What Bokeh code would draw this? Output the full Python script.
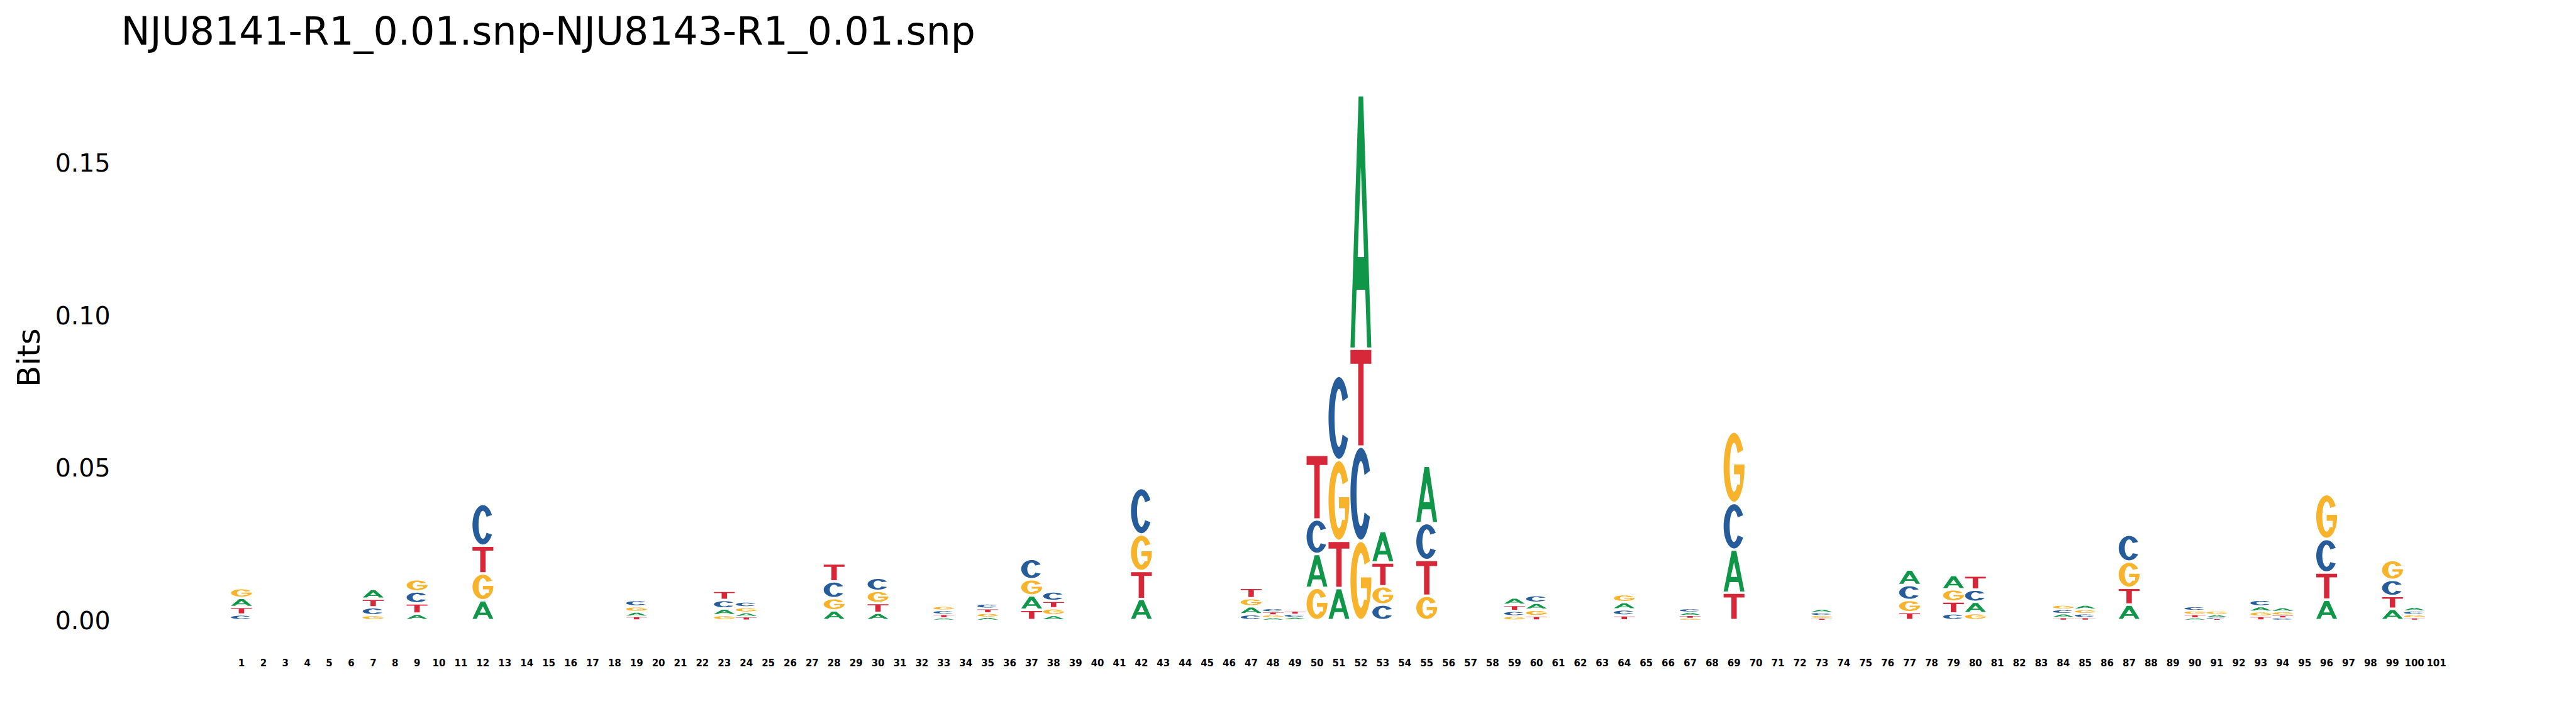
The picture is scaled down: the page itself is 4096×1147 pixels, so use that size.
import numpy as np
from bokeh.plotting import figure
from bokeh.layouts import column
from bokeh.models import Range1d, FixedTicker
from bokeh.embed import file_html
from bokeh.resources import INLINE

# ---------------- data ----------------
title_text = "NJU8141-R1_0.01.snp-NJU8143-R1_0.01.snp"
y_label = "Bits"
all_positions = list(range(1, 102))
y_ticks = [0.0, 0.05, 0.10, 0.15]
y_tick_labels = ["0.00", "0.05", "0.10", "0.15"]

# positions that carry letters (all other positions are empty)
logo_positions = [1, 7, 9, 12, 19, 23, 24, 28, 30, 33, 35, 37, 38, 42, 47, 48, 49, 50, 51, 52,
                  53, 55, 59, 60, 64, 67, 69, 73, 77, 79, 80, 84, 85, 87, 90, 91, 93, 94, 96, 99, 100]

A_bits = [0.0030, 0.0032, 0.0021, 0.0065, 0.0015, 0.0022, 0.0014, 0.0032, 0.0024, 0.0007,
          0.0009, 0.0047, 0.0016, 0.0069, 0.0026, 0.0008, 0.0007, 0.0111, 0.0105, 0.0831,
          0.0103, 0.0188, 0.0024, 0.0023, 0.0024, 0.0011, 0.0141, 0.0011, 0.0051, 0.0047,
          0.0037, 0.0013, 0.0015, 0.0051, 0.0007, 0.0009, 0.0017, 0.0013, 0.0067, 0.0037, 0.0013]
C_bits = [0.0018, 0.0026, 0.0039, 0.0137, 0.0021, 0.0028, 0.0019, 0.0055, 0.0043, 0.0013,
          0.0016, 0.0067, 0.0031, 0.0152, 0.0019, 0.0011, 0.0010, 0.0113, 0.0276, 0.0309,
          0.0051, 0.0121, 0.0017, 0.0025, 0.0020, 0.0012, 0.0153, 0.0010, 0.0049, 0.0022,
          0.0040, 0.0014, 0.0013, 0.0088, 0.0014, 0.0005, 0.0022, 0.0007, 0.0110, 0.0053, 0.0012]
G_bits = [0.0032, 0.0016, 0.0040, 0.0088, 0.0018, 0.0016, 0.0017, 0.0040, 0.0040, 0.0014,
          0.0014, 0.0053, 0.0023, 0.0120, 0.0027, 0.0009, 0.0002, 0.0106, 0.0265, 0.0260,
          0.0060, 0.0080, 0.0013, 0.0021, 0.0026, 0.0006, 0.0234, 0.0009, 0.0040, 0.0040,
          0.0023, 0.0015, 0.0014, 0.0086, 0.0013, 0.0012, 0.0016, 0.0012, 0.0147, 0.0065, 0.0011]
T_bits = [0.0025, 0.0028, 0.0034, 0.0091, 0.0012, 0.0030, 0.0011, 0.0059, 0.0032, 0.0012,
          0.0015, 0.0034, 0.0024, 0.0092, 0.0034, 0.0010, 0.0011, 0.0212, 0.0155, 0.0321,
          0.0078, 0.0117, 0.0020, 0.0013, 0.0015, 0.0009, 0.0090, 0.0006, 0.0026, 0.0039,
          0.0046, 0.0008, 0.0008, 0.0055, 0.0011, 0.0004, 0.0012, 0.0009, 0.0089, 0.0042, 0.0007]

letter_colors = {"A": "#109648", "C": "#255C99", "G": "#F7B32B", "T": "#D62839"}

# ---------------- letter outlines in a unit box ----------------
def _arc(rx, ry, a0, a1, n=60):
    t = np.radians(np.linspace(a0, a1, n))
    return list(zip(0.5 + rx * np.cos(t), 0.5 + ry * np.sin(t)))

def glyph_rings(letter):
    if letter == "A":
        outer = [(0, 0), (0.2, 0), (0.29, 0.23), (0.71, 0.23), (0.8, 0), (1, 0), (0.61, 1), (0.39, 1)]
        hole = [(0.345, 0.36), (0.655, 0.36), (0.5, 0.72)]
        return [outer, hole]
    if letter == "T":
        return [[(0, 1), (0, 0.855), (0.37, 0.855), (0.37, 0), (0.63, 0), (0.63, 0.855),
                 (1, 0.855), (1, 1)]]
    if letter == "C":
        return [_arc(0.5, 0.5, 30, 330) + _arc(0.21, 0.355, 325, 35)]
    if letter == "G":
        ring = _arc(0.5, 0.5, 30, 360)
        ring += [(1, 0.54), (0.5, 0.54), (0.5, 0.40), (0.79, 0.40), (0.79, 0.25)]
        ring += _arc(0.21, 0.355, 315, 35)
        return [ring]

shapes = {k: glyph_rings(k) for k in "ACGT"}

# ---------------- build stacked glyphs ----------------
letter_width = 0.95
xs, ys, cols = [], [], []
totals = []
for i, pos in enumerate(logo_positions):
    vals = {"A": A_bits[i], "C": C_bits[i], "G": G_bits[i], "T": T_bits[i]}
    order = sorted(vals, key=lambda k: vals[k])
    floor = 0.0
    for k in order:
        h = vals[k]
        if h <= 0:
            continue
        gap = min(0.0008, 0.4 * h)
        y0 = floor + gap / 2
        hh = h - gap
        rx, ry = [], []
        for ring in shapes[k]:
            rx.append([pos - letter_width / 2 + u * letter_width for u, v in ring])
            ry.append([y0 + v * hh for u, v in ring])
        xs.append([rx])
        ys.append([ry])
        cols.append(letter_colors[k])
        floor += h
    totals.append(floor)

ymax = max(totals)

# ---------------- title strip ----------------
tfig = figure(width=4094, height=100, output_backend="svg", toolbar_location=None,
              x_axis_type=None, y_axis_type=None, title=title_text,
              min_border_left=0, min_border_right=0, min_border_top=90, min_border_bottom=0)
tfig.outline_line_color = None
tfig.background_fill_color = "white"
tfig.border_fill_color = "white"
tfig.title.text_font = "DejaVu Sans"
tfig.title.text_font_size = "61.6px"
tfig.title.text_font_style = "normal"
tfig.title.text_color = "black"
tfig.title.align = "left"
tfig.title.offset = -174
tfig.title.standoff = 10

# ---------------- logo figure ----------------
p = figure(width=4094, height=1046, output_backend="svg", toolbar_location=None,
           x_range=Range1d(0.5, 101.5), y_range=Range1d(0, ymax),
           min_border_left=366, min_border_right=203, min_border_top=51, min_border_bottom=160)

p.multi_polygons(xs=xs, ys=ys, fill_color=cols, line_color=None)

p.outline_line_color = None
p.xgrid.visible = False
p.ygrid.visible = False
p.background_fill_color = "white"
p.border_fill_color = "white"

xa = p.xaxis[0]
xa.ticker = FixedTicker(ticks=all_positions)
xa.axis_line_color = None
xa.major_tick_line_color = None
xa.minor_tick_line_color = None
xa.major_tick_out = 0
xa.major_tick_in = 0
xa.major_label_text_font = "DejaVu Sans"
xa.major_label_text_font_style = "bold"
xa.major_label_text_font_size = "15px"
xa.major_label_text_color = "black"
xa.major_label_standoff = 61

ya = p.yaxis[0]
ya.ticker = FixedTicker(ticks=y_ticks)
ya.major_label_overrides = {t: s for t, s in zip(y_ticks, y_tick_labels)}
ya.axis_line_color = None
ya.major_tick_line_color = None
ya.minor_tick_line_color = None
ya.major_tick_out = 0
ya.major_tick_in = 0
ya.major_label_text_font = "DejaVu Sans"
ya.major_label_text_font_size = "39.4px"
ya.major_label_text_color = "black"
ya.major_label_standoff = 191
ya.axis_label = y_label
ya.axis_label_text_font = "DejaVu Sans"
ya.axis_label_text_font_size = "49.7px"
ya.axis_label_text_font_style = "normal"
ya.axis_label_text_color = "black"
ya.axis_label_standoff = 10

layout = column(tfig, p, spacing=0)
open("out.html", "w").write(file_html(layout, INLINE))
